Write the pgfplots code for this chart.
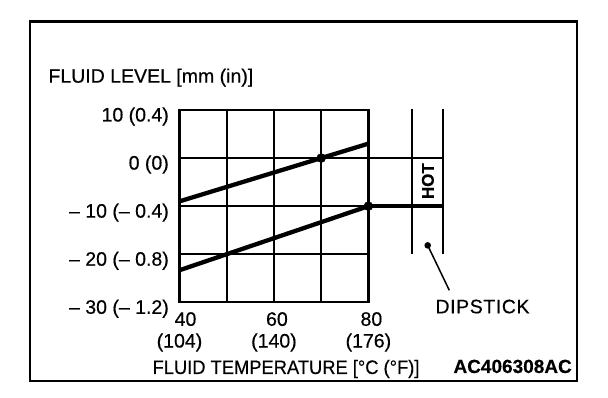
\documentclass[border=0pt]{standalone}
\usepackage{graphicx}
\usepackage{fontspec}
\setmainfont{Liberation Sans}[FakeBold=0.4]
\newfontfamily\widefont{Liberation Sans}[LetterSpace=3, FakeBold=0.4]
\usepackage{pgfplots}
\pgfplotsset{compat=1.18}
\begin{document}
\begin{tikzpicture}
\useasboundingbox (-179.5pt,-95.7pt) rectangle (428.5pt,302.3pt);
\draw[line width=2.7pt] (-149.5pt,280.6pt) rectangle (397.5pt,-78.7pt);
\begin{axis}[
  at={(0pt,0pt)}, anchor=south west,
  scale only axis, width=188.9pt, height=192.3pt,
  xmin=40, xmax=80, ymin=-30, ymax=10,
  xtick={40,60,80}, minor xtick={50,70},
  ytick={-30,-20,-10,0,10},
  xticklabels={{\hspace*{12pt}40\\(104)},{\hspace*{6pt}60\\(140)},{\hspace*{6pt}80\\(176)}},
  yticklabels={-- 30 (-- 1.2), -- 20 (-- 0.8), -- 10 (-- 0.4), 0 (0), 10 (0.4)},
  grid=both,
  major grid style={line width=2.4pt, black},
  minor grid style={line width=2.4pt, black},
  axis line style={line width=2.4pt},
  major tick length=0pt, minor tick length=0pt,
  xticklabel style={align=center, anchor=north, inner sep=0pt, yshift=-9.7pt, font=\fontsize{19.5}{21.7}\selectfont},
  yticklabel style={anchor=base east, inner sep=0pt, xshift=-10.5pt, yshift=-11.5pt, font=\fontsize{19.5}{21.7}\selectfont},
  clip=false,
]
\addplot[line width=4.3pt, black] coordinates {(40,-9) (80,3)};
\addplot[line width=4.3pt, black] coordinates {(40,-23.33) (80,-10)};
\addplot[line width=3.5pt, black] coordinates {(80,-10) (95.9,-10)};
\addplot[only marks, mark=*, mark size=4.5pt, black] coordinates {(70,0) (80,-10)};
\draw[line width=2pt] (axis cs:80,0) -- (axis cs:95.9,0);
\draw[line width=2pt] (axis cs:89.3,10.3) -- (axis cs:89.3,-20);
\draw[line width=2pt] (axis cs:95.9,10.3) -- (axis cs:95.9,-20);
\node[rotate=90, inner sep=0pt, font=\bfseries\fontsize{17}{17}\selectfont] at (axis cs:92.6,-4.8) {HOT};
\fill (axis cs:92.56,-18.16) circle[radius=3.3pt];
\draw[line width=1.5pt] (axis cs:92.56,-18.16) -- (axis cs:97.13,-27.5);
\end{axis}
\node[anchor=base west, inner sep=0pt, font=\fontsize{19.5}{19.5}\selectfont] at (-131.2pt,219.6pt) {FLUID LEVEL [mm (in)]};
\node[anchor=base, inner sep=0pt, font=\fontsize{19.5}{19.5}\selectfont] at (106.5pt,-71.7pt) {\scalebox{0.94}[1]{FLUID TEMPERATURE [°C (°F)]}};
\node[anchor=base east, inner sep=0pt, font=\bfseries\fontsize{19}{19}\selectfont] at (392.5pt,-70.7pt) {AC406308AC};
\node[anchor=base, inner sep=0pt, font=\widefont\fontsize{19.5}{19.5}\selectfont] at (303pt,-11pt) {DIPSTICK};
\end{tikzpicture}
\end{document}
